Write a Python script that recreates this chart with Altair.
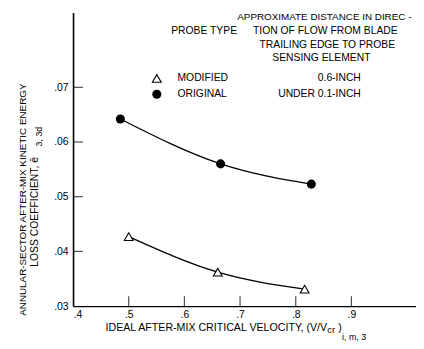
import altair as alt
import pandas as pd

# ---- data ----
probe_types = ["MODIFIED", "ORIGINAL"]
probe_distances = ["0.6-INCH", "UNDER 0.1-INCH"]
modified_velocity = [0.500, 0.660, 0.816]
modified_loss = [0.0427, 0.0362, 0.0331]
original_velocity = [0.485, 0.665, 0.828]
original_loss = [0.0642, 0.0560, 0.0523]
x_tick_values = [0.4, 0.5, 0.6, 0.7, 0.8, 0.9]
y_tick_values = [0.03, 0.04, 0.05, 0.06, 0.07]
header_left = "PROBE TYPE"
header_right = ["APPROXIMATE DISTANCE IN DIREC -", "TION OF FLOW FROM BLADE",
                "TRAILING EDGE TO PROBE", "SENSING ELEMENT"]
x_title = ["IDEAL AFTER-MIX CRITICAL VELOCITY, (V/V", "cr", ")", "i, m, 3"]
y_title = ["ANNULAR-SECTOR AFTER-MIX KINETIC ENERGY", "LOSS COEFFICIENT, ē", "3, 3d"]

FONT = "Liberation Sans, Arial, DejaVu Sans"

xs = alt.Scale(domain=[0.4, 1.016], nice=False, zero=False)
ys = alt.Scale(domain=[0.03, 0.0837], nice=False, zero=False)

df = pd.DataFrame({
    "v": modified_velocity + original_velocity,
    "e": modified_loss + original_loss,
    "probe": [probe_types[0]] * len(modified_velocity) + [probe_types[1]] * len(original_velocity),
})
df_mod = df[df.probe == probe_types[0]]
df_orig = df[df.probe == probe_types[1]]

x_axis = alt.Axis(values=x_tick_values, labelExpr="slice(format(datum.value,'.1f'),1)",
                  ticks=False, grid=False, title=None, labelPadding=4,
                  domainColor="black", domainWidth=1.3)
y_axis = alt.Axis(values=y_tick_values, labelExpr="slice(format(datum.value,'.2f'),1)",
                  ticks=False, grid=False, title=None, labelPadding=5,
                  domainColor="black", domainWidth=1.6)

X = alt.X("v:Q", scale=xs, axis=x_axis)
Y = alt.Y("e:Q", scale=ys, axis=y_axis)

lines = alt.Chart(df).mark_line(interpolate="monotone", color="black", strokeWidth=1.3).encode(
    x=X, y=Y, detail="probe:N")
tri = alt.Chart(df_mod).mark_point(shape="triangle-up", filled=True, fill="white",
                                   stroke="black", strokeWidth=1.1, size=80, opacity=1).encode(
    x=alt.X("v:Q", scale=xs), y=alt.Y("e:Q", scale=ys))
dots = alt.Chart(df_orig).mark_circle(color="black", size=85, opacity=1).encode(
    x=alt.X("v:Q", scale=xs), y=alt.Y("e:Q", scale=ys))

xt = alt.Chart(pd.DataFrame({"v": x_tick_values[1:]})).mark_tick(
    orient="vertical", color="black", size=10, thickness=1.2, yOffset=-5).encode(
    x=alt.X("v:Q", scale=xs), y=alt.datum(y_tick_values[0], scale=ys))
yt = alt.Chart(pd.DataFrame({"e": y_tick_values[1:]})).mark_tick(
    orient="horizontal", color="black", size=10, thickness=1.2, xOffset=5).encode(
    y=alt.Y("e:Q", scale=ys), x=alt.datum(x_tick_values[0], scale=xs))


def label(text, x, y, align="center", angle=0, size=10.5):
    return alt.Chart(pd.DataFrame({"t": [text]})).mark_text(
        align=align, baseline="middle", font=FONT, fontSize=size, angle=angle, color="black"
    ).encode(x=alt.value(x), y=alt.value(y), text="t:N")


texts = [
    label(header_left, 133, 19),
    label(header_right[0], 255, 5, size=10),
    label(header_right[1], 256, 19),
    label(header_right[2], 258, 33),
    label(header_right[3], 252, 46),
    label(probe_types[0], 106, 67, align="left"),
    label(probe_types[1], 106, 83, align="left"),
    label(probe_distances[0], 292, 67, align="right"),
    label(probe_distances[1], 292, 83, align="right"),
    label(x_title[0], 33, 320, align="left", size=10.8),
    label(x_title[1], 258, 322, align="left", size=9.5),
    label(x_title[2], 269, 320, align="left", size=10.8),
    label(x_title[3], 273, 329, align="left", size=9),
    label(y_title[0], -51, 190, angle=270, size=10),
    label(y_title[1], -39, 258, align="left", angle=270, size=10.5),
    label(y_title[2], -35, 136, align="left", angle=270, size=9),
]

leg_tri = alt.Chart(pd.DataFrame({"p": [probe_types[0]]})).mark_point(
    shape="triangle-up", filled=False, stroke="black", strokeWidth=1.1, size=80, opacity=1).encode(
    x=alt.value(85), y=alt.value(67))
leg_dot = alt.Chart(pd.DataFrame({"p": [probe_types[1]]})).mark_circle(
    color="black", size=85, opacity=1).encode(x=alt.value(85), y=alt.value(83))

chart = alt.layer(lines, xt, yt, tri, dots, leg_tri, leg_dot, *texts).properties(
    width=348, height=298,
    padding={"left": 66, "top": 2, "right": 0, "bottom": 35},
    autosize=alt.AutoSizeParams(type="none"),
).configure_view(stroke=None).configure_axis(
    labelFont=FONT, labelFontSize=10.5, labelColor="black"
)

chart.save("out.html", embed_options={"renderer": "svg", "actions": False})
